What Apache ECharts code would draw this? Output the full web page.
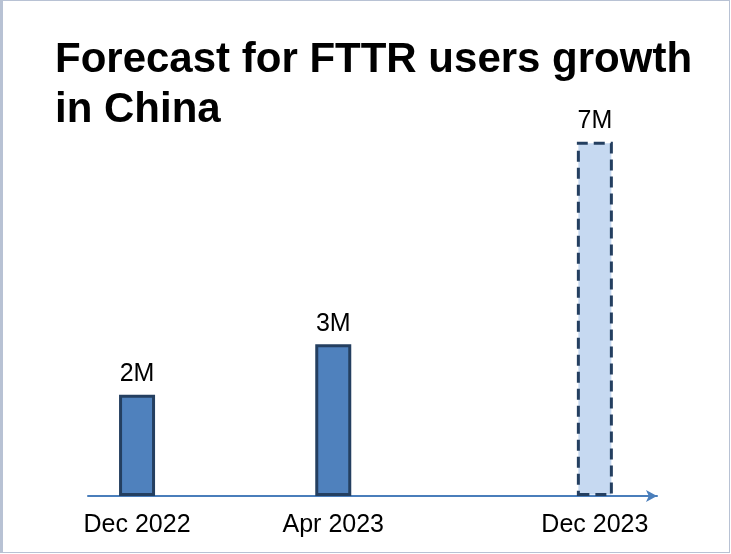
<!DOCTYPE html>
<html>
<head>
<meta charset="utf-8">
<script src="https://cdn.jsdelivr.net/npm/echarts@6/dist/echarts.min.js"></script>
<style>
  html, body { margin: 0; padding: 0; background: #fff; }
  #wrap { position: relative; width: 731px; height: 554px; }
  #chart { position: absolute; left: 0; top: 0; width: 731px; height: 554px; }
  #frame { position: absolute; left: 0; top: 0; width: 726px; height: 551px;
           border: 1px solid #b8c2d4; border-left: 3px solid #b8c2d4; pointer-events: none; }
</style>
</head>
<body>
<div id="wrap"><div id="chart"></div><div id="frame"></div></div>
<script>
// ---- data ----
const titleText = 'Forecast for FTTR users growth\nin China';
const categories = ['Dec 2022', 'Apr 2023', 'Dec 2023'];
const users = [2, 3, 7];            // millions
const valueLabels = ['2M', '3M', '7M'];
const isForecast = [false, false, true];

// ---- layout (axis slot for each category along the x value axis) ----
const slots = [0, 3, 7];

const font = '"Liberation Sans", Arial, Helvetica, sans-serif';
const chart = echarts.init(document.getElementById('chart'), null, { renderer: 'canvas' });

const seriesData = categories.map((c, i) => {
  const item = { value: [slots[i], users[i]] };
  if (isForecast[i]) {
    item.itemStyle = {
      color: '#c6d9f1',
      borderColor: '#243f60',
      borderWidth: 3,
      borderType: [11, 6]
    };
  }
  return item;
});

chart.setOption({
  animation: false,
  backgroundColor: '#ffffff',
  title: {
    text: titleText,
    left: 50,
    top: 30,
    textStyle: { fontFamily: font, fontSize: 42, fontWeight: 'bold', color: '#000', lineHeight: 50 }
  },
  grid: { left: 88, right: 74, top: 91, bottom: 58, containLabel: false },
  xAxis: {
    type: 'value',
    min: -0.75,
    max: 7.95,
    splitLine: { show: false },
    axisTick: { show: false },
    axisLine: {
      show: true,
      onZero: false,
      symbol: ['none', 'arrow'],
      symbolSize: [9, 11],
      lineStyle: { color: '#4a7ebb', width: 2 }
    },
    axisLabel: {
      customValues: slots,
      formatter: (v) => { const i = slots.indexOf(v); return i >= 0 ? categories[i] : ''; },
      fontFamily: font, fontSize: 25, color: '#000', margin: 17
    }
  },
  yAxis: {
    type: 'value', min: 0, max: 8, show: false, splitLine: { show: false }
  },
  series: [{
    type: 'bar',
    barWidth: 36,
    data: seriesData,
    itemStyle: { color: '#4f81bd', borderColor: '#243f60', borderWidth: 3 },
    label: {
      show: true,
      position: 'top',
      distance: 8,
      formatter: (p) => valueLabels[p.dataIndex],
      fontFamily: font, fontSize: 25, color: '#000'
    }
  }]
});
</script>
</body>
</html>
